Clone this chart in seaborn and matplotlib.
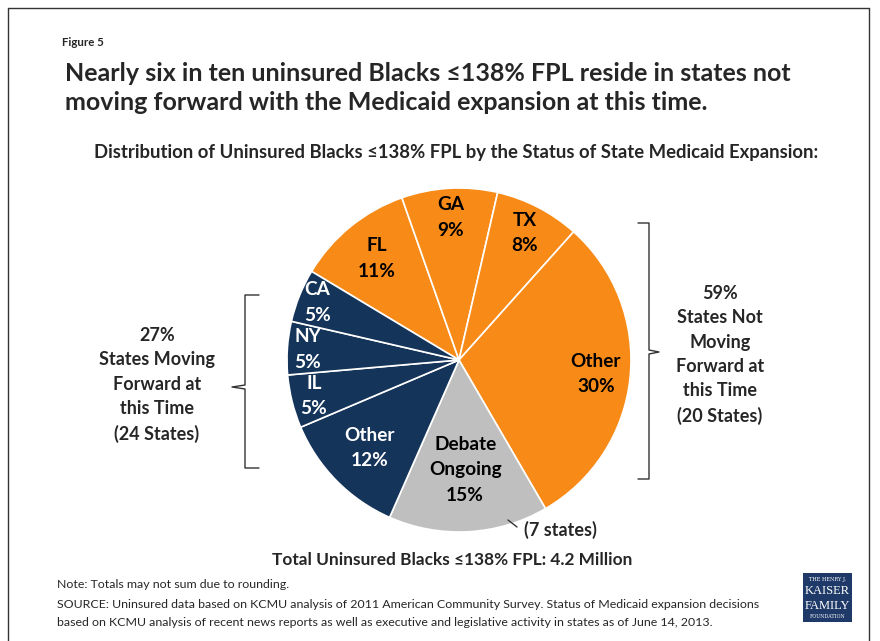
import matplotlib
matplotlib.use("Agg")
import matplotlib.pyplot as plt
import seaborn as sns
import numpy as np
from matplotlib.lines import Line2D
from matplotlib.patches import Rectangle

# ---- data ----
slice_names = ["FL", "GA", "TX", "Other", "Debate\nOngoing", "Other", "IL", "NY", "CA"]
slice_values = [11, 9, 8, 30, 15, 12, 5, 5, 5]
slice_groups = ["not", "not", "not", "not", "debate", "fwd", "fwd", "fwd", "fwd"]

title_text = ("Nearly six in ten uninsured Blacks \u2264138% FPL reside in states not\n"
              "moving forward with the Medicaid expansion at this time.")
subtitle_text = "Distribution of Uninsured Blacks \u2264138% FPL by the Status of State Medicaid Expansion:"
total_text = "Total Uninsured Blacks \u2264138% FPL: 4.2 Million"
left_group_text = "27%\nStates Moving\nForward at\nthis Time\n(24 States)"
right_group_text = "59%\nStates Not\nMoving\nForward at\nthis Time\n(20 States)"
debate_note = "(7 states)"
note_lines = ["Note: Totals may not sum due to rounding.",
              "SOURCE: Uninsured data based on KCMU analysis of 2011 American Community Survey. Status of Medicaid expansion decisions",
              "based on KCMU analysis of recent news reports as well as executive and legislative activity in states as of June 14, 2013."]

# ---- style ----
sns.set_theme(style="white")
plt.rcParams['font.family'] = ['Lato', 'DejaVu Sans']

group_colors = {"not": "#F88A17", "debate": "#BFBFBF", "fwd": "#15345A"}
text_colors = {"not": "black", "debate": "black", "fwd": "white"}
label_radius = [0.76, 0.83, 0.83, 0.80, 0.64, 0.73, 0.87, 0.88, 0.89]

W, H = 880, 641
fig = plt.figure(figsize=(W / 100, H / 100), dpi=100)

def fx(px):
    return px / W

def fy(py):
    return 1 - py / H

# border
fig.add_artist(Line2D([fx(8), fx(8)], [0, fy(8)], color="#333333", lw=1))
fig.add_artist(Line2D([fx(8), fx(869)], [fy(8), fy(8)], color="#333333", lw=1))
fig.add_artist(Line2D([fx(869), fx(869)], [0, fy(8)], color="#333333", lw=1))

# texts
fig.text(fx(62), fy(42), "Figure 5", fontsize=8.3, fontweight="bold", va="center", ha="left")
fig.text(fx(65), fy(88), title_text, fontsize=18, fontweight="bold", va="center", ha="left",
         linespacing=1.34)
fig.text(fx(456), fy(152), subtitle_text, fontsize=13.3, fontweight="bold", va="center", ha="center")
fig.text(fx(452), fy(560), total_text, fontsize=12.4, fontweight="bold", va="center", ha="center")
for i, (line, yy) in enumerate(zip(note_lines, [585, 604, 622])):
    fig.text(fx(57), fy(yy), line, fontsize=8.95, va="center", ha="left")

# pie
cx, cy, R = 459, 360, 172
ax = fig.add_axes([fx(cx - R), fy(cy + R), 2 * R / W, 2 * R / H])
colors = [group_colors[g] for g in slice_groups]
wedges, _ = ax.pie(slice_values, colors=colors, startangle=149, counterclock=False,
                   wedgeprops=dict(edgecolor="white", linewidth=1.2))
ax.set_xlim(-1, 1)
ax.set_ylim(-1, 1)
ax.set_aspect("equal")
ax.axis("off")

for w, name, val, g, r in zip(wedges, slice_names, slice_values, slice_groups, label_radius):
    th = np.deg2rad((w.theta1 + w.theta2) / 2)
    ax.text(r * np.cos(th), r * np.sin(th), f"{name}\n{val}%", ha="center", va="center",
            fontsize=13.7, fontweight="bold", color=text_colors[g], linespacing=1.6)

# brackets
bc = "#333333"
# right brace
fig.add_artist(Line2D([fx(638), fx(649), fx(649), fx(659), fx(649), fx(649), fx(638)],
                      [fy(223), fy(223), fy(350), fy(352), fy(354), fy(479), fy(479)],
                      color=bc, lw=1))
# left brace
fig.add_artist(Line2D([fx(259), fx(245), fx(245), fx(232), fx(245), fx(245), fx(259)],
                      [fy(295), fy(295), fy(385), fy(387), fy(389), fy(468), fy(468)],
                      color=bc, lw=1))
fig.text(fx(720), fy(355), right_group_text, fontsize=13, fontweight="bold",
         ha="center", va="center", linespacing=1.52)
fig.text(fx(157), fy(385), left_group_text, fontsize=13, fontweight="bold",
         ha="center", va="center", linespacing=1.52)

# debate note
fig.add_artist(Line2D([fx(508), fx(517)], [fy(520), fy(527)], color=bc, lw=1))
fig.text(fx(524), fy(530), debate_note, fontsize=13, fontweight="bold", ha="left", va="center")

# logo
fig.add_artist(Rectangle((fx(803), fy(622)), fx(852) - fx(803), fy(573) - fy(622),
                         facecolor="#1F3A68", edgecolor="none"))
lx = fx(827.5)
fig.text(lx, fy(579), "THE HENRY J.", fontsize=3.6, color="white", ha="center", va="center",
         family="DejaVu Serif")
fig.text(lx, fy(591), "KAISER", fontsize=9, color="white", ha="center", va="center",
         family="Liberation Serif")
fig.text(lx, fy(606), "FAMILY", fontsize=9, color="white", ha="center", va="center",
         family="Liberation Serif")
fig.text(lx, fy(617), "FOUNDATION", fontsize=3.4, color="white", ha="center", va="center",
         family="DejaVu Serif")

fig.savefig("out.png", dpi=100)
